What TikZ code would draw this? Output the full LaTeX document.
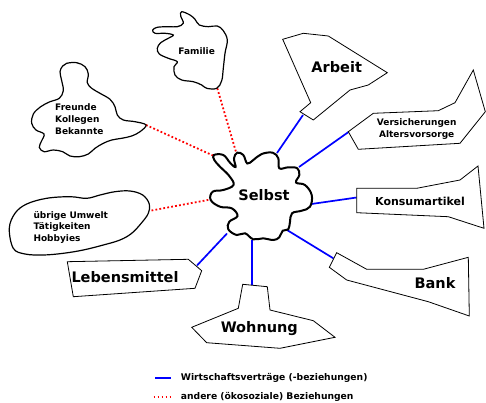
\documentclass[tikz,border=0pt]{standalone}
\usepackage{fontspec}
\setmainfont{DejaVu Sans}
\usetikzlibrary{calc}
\definecolor{vertragblue}{HTML}{0000FF}
\definecolor{oekored}{HTML}{FF0000}
\tikzset{
  selbstblob/.style={draw=black, line width=2pt, fill=white},
  blob/.style={draw=black, line width=1.2pt, fill=white},
  polybox/.style={draw=black, line width=0.8pt, fill=white, line join=miter},
  vline/.style={draw=vertragblue, line width=1.7pt},
  oline/.style={draw=oekored, line width=1.8pt, dash pattern=on 1.8pt off 2.2pt},
  biglabel/.style={font=\bfseries\fontsize{14.5}{17}\selectfont, inner sep=0pt},
  midlabel/.style={font=\bfseries\fontsize{11}{13}\selectfont, inner sep=0pt},
  smalllabel/.style={font=\bfseries\fontsize{9}{11.7}\selectfont, inner sep=0pt, align=left},
  legendtext/.style={font=\bfseries\fontsize{9.2}{11}\selectfont, inner sep=0pt, anchor=west}
}

\begin{document}
\begin{tikzpicture}[x=1pt, y=-1pt]
  \useasboundingbox (0,0) rectangle (486,403);

  % ports on the shapes
  \coordinate (s-arbeit) at (277,153);
  \coordinate (s-versich) at (299,167);
  \coordinate (s-konsum) at (311.5,204);
  \coordinate (s-bank) at (287,230);
  \coordinate (s-wohnung) at (252,240);
  \coordinate (s-lebens) at (227,233.5);
  \coordinate (s-familie) at (236,152);
  \coordinate (s-freunde) at (214,156);
  \coordinate (s-umwelt) at (210.5,199.5);
  \coordinate (p-arbeit) at (303,115);
  \coordinate (p-versich) at (348.5,132);
  \coordinate (p-konsum) at (356.7,197.5);
  \coordinate (p-bank) at (333.3,258.3);
  \coordinate (p-wohnung) at (252,284.5);
  \coordinate (p-lebens) at (197,265.5);
  \coordinate (p-familie) at (217.3,88.3);
  \coordinate (p-freunde) at (146,125);
  \coordinate (p-umwelt) at (151.5,210.5);

  % connectors
  \draw[vline] (p-arbeit) -- (s-arbeit);
  \draw[vline] (p-versich) -- (s-versich);
  \draw[vline] (p-konsum) -- (s-konsum);
  \draw[vline] (p-bank) -- (s-bank);
  \draw[vline] (p-wohnung) -- (s-wohnung);
  \draw[vline] (p-lebens) -- (s-lebens);
  \draw[oline] (p-familie) -- (s-familie);
  \draw[oline] (p-freunde) -- (s-freunde);
  \draw[oline] (p-umwelt) -- (s-umwelt);

  % Selbst
  \draw[selbstblob] plot[smooth cycle, tension=0.65] coordinates {
    (214,155) (223.3,155) (230,162.7) (235.5,167) (234,158.3) (237.3,152.7)
    (243.3,155) (247.3,163.5) (253.3,160) (261.7,154) (272.7,152.7)
    (278.3,158.3) (279.3,168.3) (288.3,167.3) (297.3,168.3) (299.3,175)
    (296,182.5) (305,185) (311.7,195) (310,206.7) (301.7,210.7)
    (292,213.3) (290,221.7) (288.3,229.3) (282.7,230.7) (279.3,237.3)
    (273.3,240) (263.3,238.3) (253.3,239.3) (245,233.3) (236.7,235)
    (228.3,229.3) (229.3,221.7) (237.5,216) (231.7,208.3) (220,206.7)
    (210.7,200) (212.7,191.7) (223.3,190) (233.5,185) (229.3,176)
    (220,166.7) (214.3,160)};
  \node[biglabel] at (264,195) (selbst) {Selbst};

  % Familie
  \draw[blob] plot[smooth cycle, tension=0.6] coordinates {
    (181.7,11.7) (190,15) (195,19.3) (199.3,25) (208.3,26.7) (217.3,26)
    (223.3,30.7) (227.3,40) (225,53.3) (223.3,68.3) (221.7,80.7)
    (216.7,88.3) (206.7,88.3) (201.7,85) (193.3,81.7) (181.7,80) (175,75)
    (174,66.7) (177.3,61.7) (168.3,58.3) (159.3,54) (157.3,48.3)
    (160.7,42.7) (168.3,38.3) (173.3,35) (165,33.3) (155,33.3) (152.7,30)
    (157.3,27.3) (168.3,26.7) (177.3,26.7) (183.3,23.3) (180.7,16)};
  \node[smalllabel] at (196.7,50.7) (familie) {Familie};

  % Freunde
  \draw[blob] plot[smooth cycle, tension=0.6] coordinates {
    (66.7,63.3) (76.7,62.7) (85,66.7) (88.3,74) (87.3,82.7) (91.7,88.3)
    (100,93.3) (110,99.3) (115,106.7) (117.3,115) (123.3,120) (135,121.7)
    (146,125) (140,131.7) (131.7,136) (121.7,138.3) (111.7,140) (103.3,143.3)
    (95,148.3) (88.3,154) (79.3,156.7) (70,156) (62.7,151.7) (53.3,150)
    (44,151.7) (39.3,147.3) (41.7,140.7) (44,134) (36,130) (31.7,123.3)
    (33.3,114) (40.7,106.7) (50,101.7) (59.3,98.3) (63.3,90.7) (61.7,80.7)
    (60,71.7) (62.7,66)};
  \node[smalllabel, anchor=west] at (55,119) (freunde) {Freunde\\Kollegen\\Bekannte};

  % übrige Umwelt
  \draw[blob] plot[smooth cycle, tension=0.6] coordinates {
    (9.3,228.3) (15,213.3) (26.7,204) (46.7,198.3) (70,196.7) (86.7,198.3)
    (100,195) (115,191.7) (130,191) (142.7,195) (149.3,204) (148.3,213.3)
    (141.7,222.7) (131.7,233.3) (120,240) (103.3,245) (83.3,250)
    (63.3,253.3) (43.3,255) (25,254) (13.3,248.3)};
  \node[smalllabel, anchor=west] at (33.3,227.3) (umwelt) {übrige Umwelt\\Tätigkeiten\\Hobbyies};

  % Arbeit
  \draw[polybox] (282.7,39.3) -- (303.3,33.3) -- (328.3,36) -- (387.3,72.7)
    -- (368.3,85) -- (350,90) -- (313.3,120) -- (300,111.7) -- (310.7,102.7) -- cycle;
  \node[biglabel] at (336.7,66.7) (arbeit) {Arbeit};

  % Versicherungen
  \draw[polybox] (348.3,131.7) -- (373.3,113.3) -- (438.3,110.7) -- (455,102.7)
    -- (473.3,70) -- (485.3,111.7) -- (460,143.3) -- (358.3,149.3) -- cycle;
  \node[smalllabel, align=center] at (416.7,129) (versich) {Versicherungen\\Altersvorsorge};

  % Konsumartikel
  \draw[polybox] (356.7,188.3) -- (416.7,188.3) -- (460,180) -- (478,166)
    -- (484,228.3) -- (448.3,216.7) -- (356.7,212.7) -- cycle;
  \node[midlabel] at (420,201.7) (konsum) {Konsumartikel};

  % Bank
  \draw[polybox] (336.7,252.7) -- (366.7,269.3) -- (423.3,269.3) -- (468.3,257.3)
    -- (469.3,316) -- (428.3,301.7) -- (346.7,280) -- (329.3,267.3) -- cycle;
  \node[biglabel] at (435,283.3) (bank) {Bank};

  % Wohnung
  \draw[polybox] (242.7,284.3) -- (267.3,286.7) -- (270,310) -- (313.3,320.7)
    -- (335,337.3) -- (280,348.3) -- (206.7,342.7) -- (191.7,327.3) -- (238.3,308.3) -- cycle;
  \node[biglabel] at (259.3,328.3) (wohnung) {Wohnung};

  % Lebensmittel
  \draw[polybox] (67.3,261.7) -- (188.3,259.3) -- (201.7,270.7) -- (195,288.3)
    -- (73.3,296.7) -- cycle;
  \node[biglabel] at (125,277.3) (lebens) {Lebensmittel};

  % legend
  \coordinate (leg-a1) at (155,378.3);
  \coordinate (leg-a2) at (170.7,378.3);
  \coordinate (leg-b1) at (153.5,397.3);
  \coordinate (leg-b2) at (171,397.3);
  \draw[vline] (leg-a1) -- (leg-a2);
  \draw[oline] (leg-b1) -- (leg-b2);
  \node[legendtext] at (180.7,378.3) (leg-vertrag) {Wirtschaftsverträge (-beziehungen)};
  \node[legendtext] at (180.7,397.3) (leg-oeko) {andere (ökosoziale) Beziehungen};
\end{tikzpicture}
\end{document}
